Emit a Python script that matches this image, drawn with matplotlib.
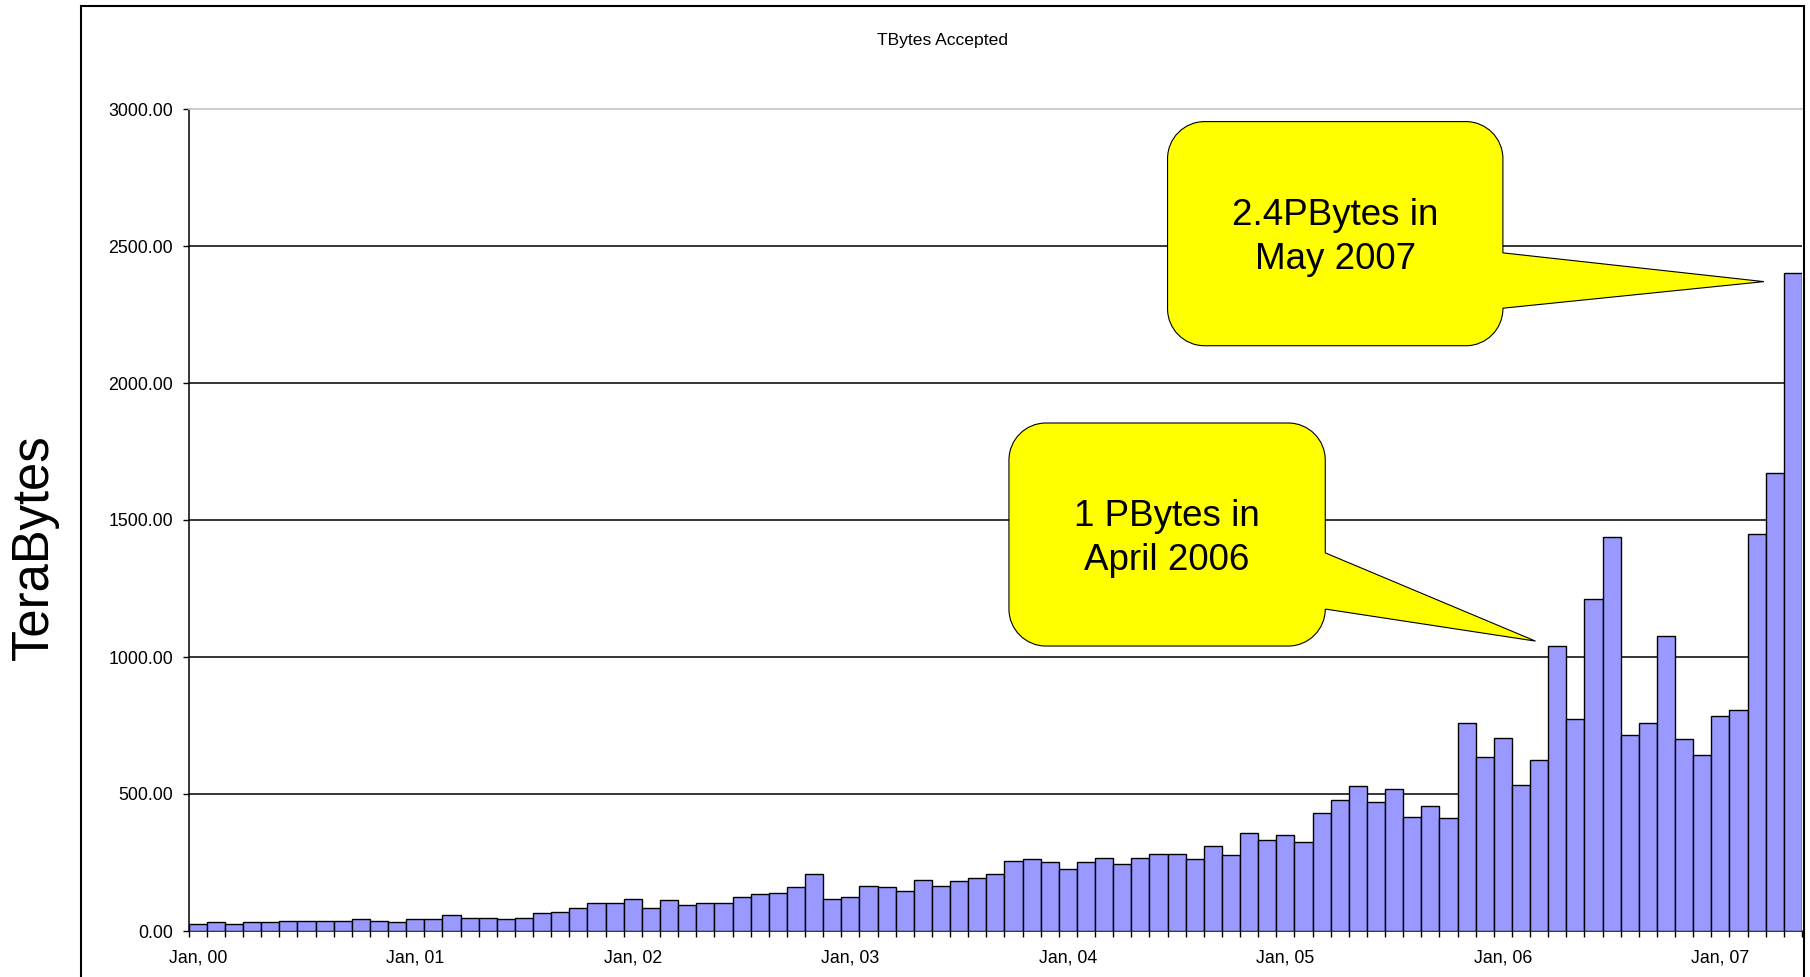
import numpy as np
import matplotlib
matplotlib.use('Agg')
import matplotlib.pyplot as plt
from matplotlib.path import Path
from matplotlib.patches import PathPatch, Rectangle
from matplotlib.transforms import IdentityTransform

plt.rcParams['font.family'] = ['Liberation Sans', 'DejaVu Sans']

# monthly TBytes accepted, Jan 2000 .. May 2007
tbytes = [
    27, 33, 27, 33, 33, 38, 38, 38, 38, 44, 38, 33,
    43, 43, 60, 47, 47, 43, 47, 64, 69, 85, 101, 101,
    117, 85, 112, 96, 101, 101, 123, 135, 140, 161, 208, 118,
    124, 165, 161, 145, 187, 165, 181, 192, 208, 257, 262, 251,
    225, 251, 266, 246, 266, 282, 282, 262, 309, 277, 358, 331,
    352, 324, 430, 477, 529, 471, 517, 417, 456, 412, 759, 636,
    703, 534, 625, 1041, 773, 1210, 1439, 715, 759, 1076, 700, 641,
    783, 805, 1449, 1673, 2403,
]
year_labels = ['Jan, 00', 'Jan, 01', 'Jan, 02', 'Jan, 03',
               'Jan, 04', 'Jan, 05', 'Jan, 06', 'Jan, 07']
y_ticks = [0, 500, 1000, 1500, 2000, 2500, 3000]

# callouts: text, box (x0, x1, y0, y1) in data units, tail attach y (low, high), tip (x, y)
callout_texts = ['1 PBytes in\nApril 2006', '2.4PBytes in\nMay 2007']
callout_boxes = [(44.75, 62.2, 1040, 1854), (53.5, 72.0, 2136, 2954)]
callout_attach = [(1175, 1380), (2273, 2475)]
callout_tips = [(73.8, 1058), (86.4, 2370)]

W, H = 1810, 977
fig = plt.figure(figsize=(W / 100, H / 100), dpi=100)
ax = fig.add_axes([188.7 / W, 46 / H, (1802 - 188.7) / W, 822 / H])

x = np.arange(len(tbytes))
ax.bar(x, tbytes, width=1.0, color='#9999ff', edgecolor='black', linewidth=1.0, zorder=3)

ax.set_xlim(-0.5, len(tbytes) - 0.5)
ax.set_ylim(0, 3000)
ax.set_autoscale_on(False)

for v in y_ticks[1:-1]:
    ax.axhline(v, color='black', linewidth=1.1, zorder=1)

ax.set_yticks(y_ticks)
ax.set_yticklabels(['%.2f' % v for v in y_ticks])
ax.set_xticks(x[::12])
ax.set_xticklabels(year_labels)
ax.set_xticks(np.arange(-0.5, len(tbytes)), minor=True)
ax.tick_params(axis='y', length=4.3, width=1.0, pad=7, labelsize=12.8, colors='black')
ax.tick_params(axis='x', which='major', length=0, pad=13, labelsize=12.8)
ax.tick_params(axis='x', which='minor', length=4.3, width=1.0)

ax.spines['left'].set_linewidth(1.1)
ax.spines['bottom'].set_linewidth(1.1)
ax.spines['top'].set_color('#c8c8c8')
ax.spines['top'].set_linewidth(1.3)
ax.spines['right'].set_visible(False)

fig.text(942 / W, 1 - 41 / H, 'TBytes Accepted', ha='center', va='center', fontsize=12.6)
fig.text(34 / W, 1 - 547 / H, 'TeraBytes', rotation=90, ha='center', va='center', fontsize=36.5)

# outer chart border (runs off the bottom of the image)
fig.add_artist(Rectangle((80.7 / W, -0.1), (1803.5 - 80.7) / W, 1.1 - 5.7 / H,
                         transform=fig.transFigure, fill=False,
                         edgecolor='black', linewidth=1.5))

k = 0.5523
r = 37
for text, box, att, tip in zip(callout_texts, callout_boxes, callout_attach, callout_tips):
    (x0, y0), (x1, y1) = ax.transData.transform([(box[0], box[2]), (box[1], box[3])])
    ya = ax.transData.transform((box[1], att[0]))[1]
    yb = ax.transData.transform((box[1], att[1]))[1]
    tx, ty = ax.transData.transform(tip)
    verts = [
        (x0 + r, y0), (x1 - r, y0),
        (x1 - r + k * r, y0), (x1, y0 + r - k * r), (x1, y0 + r),
        (x1, ya), (tx, ty), (x1, yb), (x1, y1 - r),
        (x1, y1 - r + k * r), (x1 - r + k * r, y1), (x1 - r, y1),
        (x0 + r, y1),
        (x0 + r - k * r, y1), (x0, y1 - r + k * r), (x0, y1 - r),
        (x0, y0 + r),
        (x0, y0 + r - k * r), (x0 + r - k * r, y0), (x0 + r, y0),
        (x0 + r, y0),
    ]
    codes = [Path.MOVETO, Path.LINETO,
             Path.CURVE4, Path.CURVE4, Path.CURVE4,
             Path.LINETO, Path.LINETO, Path.LINETO, Path.LINETO,
             Path.CURVE4, Path.CURVE4, Path.CURVE4,
             Path.LINETO,
             Path.CURVE4, Path.CURVE4, Path.CURVE4,
             Path.LINETO,
             Path.CURVE4, Path.CURVE4, Path.CURVE4,
             Path.CLOSEPOLY]
    patch = PathPatch(Path(verts, codes), facecolor='#ffff00', edgecolor='black',
                      linewidth=0.8, transform=IdentityTransform(), zorder=5, clip_on=False)
    ax.add_patch(patch)
    ax.text((box[0] + box[1]) / 2, (box[2] + box[3]) / 2 - 15, text, ha='center', va='center',
            fontsize=26.5, linespacing=1.32, zorder=6)

fig.savefig('out.png', dpi=100)
